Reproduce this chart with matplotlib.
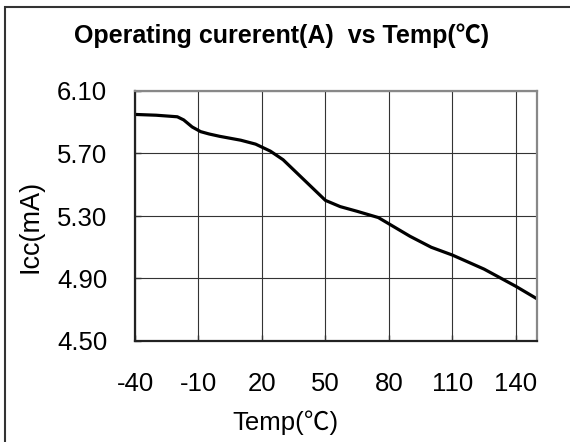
import matplotlib
matplotlib.use("Agg")
import matplotlib.pyplot as plt
from matplotlib.patches import Rectangle

temps = [-40, -30, -25, -20, -17, -13, -9, -5, 0, 10, 17, 24, 30, 40, 50, 57, 65, 75, 80, 90, 100, 110, 125, 140, 150]
icc = [5.95, 5.945, 5.94, 5.935, 5.915, 5.87, 5.84, 5.825, 5.81, 5.785, 5.76, 5.715, 5.66, 5.53, 5.40, 5.36, 5.33, 5.29, 5.25, 5.17, 5.10, 5.05, 4.96, 4.85, 4.77]
xticks = [-40, -10, 20, 50, 80, 110, 140]
yticks = [4.50, 4.90, 5.30, 5.70, 6.10]

FAM = ['Liberation Sans', 'Noto Sans CJK SC', 'DejaVu Sans']
plt.rcParams['font.family'] = FAM

fig = plt.figure(figsize=(5.7, 4.42), dpi=100)
ax = fig.add_axes([135/570, 1-341/442, (537-135)/570, (341-91)/442])

ax.plot(temps, icc, color='black', lw=2.3, solid_capstyle='butt')
ax.set_xlim(-40, 150)
ax.set_ylim(4.50, 6.10)
ax.set_xticks(xticks)
ax.set_xticklabels([str(t) for t in xticks])
ax.set_yticks(yticks)
ax.set_yticklabels([f"{v:.2f}" for v in yticks])
ax.grid(True, color='#333333', lw=0.8)
ax.tick_params(axis='both', direction='in', length=4, width=1, labelsize=18.5, colors='#333333', labelcolor='black')
ax.tick_params(axis='x', pad=22)
ax.tick_params(axis='y', pad=20)
for s in ['left', 'bottom']:
    ax.spines[s].set_color('#222222')
    ax.spines[s].set_linewidth(1.6)
for s in ['top', 'right']:
    ax.spines[s].set_color('#888888')
    ax.spines[s].set_linewidth(1.6)

fig.text(282/570, 1-36/442, 'Operating curerent(A)  vs Temp(℃)', ha='center', va='center',
         fontsize=18, fontweight='bold', family=FAM)
fig.text(31/570, 1-226/442, 'Icc(mA)', rotation=90, ha='center', va='center', fontsize=19.5, family=FAM)
fig.text(285/570, 1-423/442, 'Temp(℃)', ha='center', va='center', fontsize=18.5, family=FAM)

fig.patches.append(Rectangle((5/570, -0.2), 1.3, 1-7/442+0.2, transform=fig.transFigure,
                             fill=False, edgecolor='#333333', lw=1.5))

fig.savefig('out.png', dpi=100)
